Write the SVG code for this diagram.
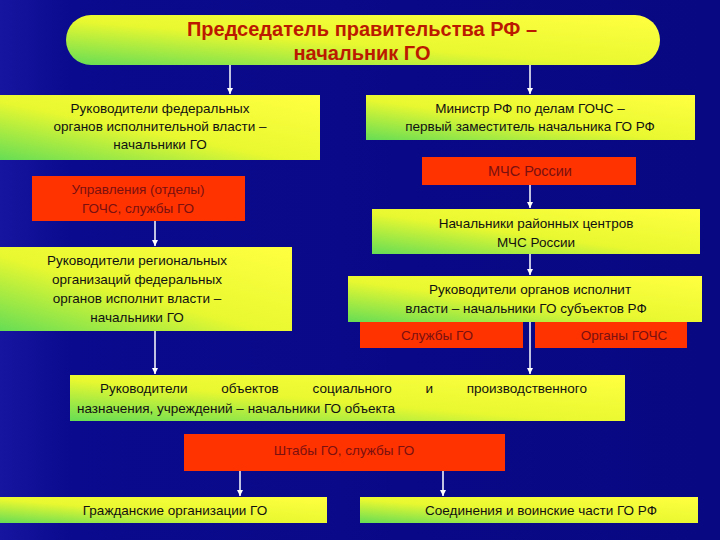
<svg xmlns="http://www.w3.org/2000/svg" width="720" height="540" viewBox="0 0 720 540">
<defs>
<linearGradient id="bg" x1="0" y1="0" x2="1" y2="0"><stop offset="0" stop-color="#1515a0"/><stop offset="0.1" stop-color="#0a0a8e"/><stop offset="1" stop-color="#080882"/></linearGradient>
<linearGradient id="gy" x1="0" y1="1" x2="1" y2="0"><stop offset="0" stop-color="#66dd55"/><stop offset="0.45" stop-color="#e8f830"/><stop offset="1" stop-color="#ffff40"/></linearGradient>
<marker id="ar" markerWidth="8" markerHeight="8" refX="6" refY="4" orient="auto" markerUnits="userSpaceOnUse"><path d="M0,1 L6,4 L0,7 Z" fill="#fff"/></marker>
</defs>
<style>
.g{fill:url(#gy)}
.r{fill:#ff3300}
text{font-family:"Liberation Sans",Arial,sans-serif;font-size:13.5px;text-anchor:middle}
.k{fill:#111}
.t{fill:#7a1010}
.c line{stroke:#fff;stroke-width:1.5;marker-end:url(#ar)}
</style>
<rect width="720" height="540" fill="url(#bg)"/>
<g class="c">
<line x1="230" y1="65" x2="230" y2="94"/>
<line x1="530" y1="65" x2="530" y2="94"/>
<line x1="530" y1="185" x2="530" y2="208"/>
<line x1="530" y1="254" x2="530" y2="275"/>
<line x1="530" y1="322" x2="530" y2="374"/>
<line x1="155" y1="221" x2="155" y2="246"/>
<line x1="155" y1="331" x2="155" y2="374"/>
<line x1="240" y1="471" x2="240" y2="496"/>
<line x1="443" y1="471" x2="443" y2="496"/>
</g>
<g id="top"><rect x="66" y="15" width="594" height="50" rx="25" class="g"/>
<text x="362" y="36" style="font-size:20px;font-weight:bold;fill:#bb1a00">Председатель правительства РФ –</text>
<text x="362" y="60" style="font-size:20px;font-weight:bold;fill:#bb1a00">начальник ГО</text></g>
<g id="fed"><rect x="0" y="95" width="320" height="65" class="g"/>
<text x="160" y="113" class="k">Руководители федеральных</text>
<text x="160" y="131" class="k">органов исполнительной власти –</text>
<text x="160" y="149" class="k">начальники ГО</text></g>
<g id="min"><rect x="366" y="95" width="329" height="45" class="g"/>
<text x="530" y="113" class="k">Министр РФ по делам ГОЧС –</text>
<text x="530" y="131" class="k">первый заместитель начальника ГО РФ</text></g>
<g id="mchs"><rect x="422" y="157" width="214" height="28" class="r"/>
<text x="530" y="176" class="t" style="font-size:14.5px">МЧС России</text></g>
<g id="upr"><rect x="32" y="176" width="213" height="45" class="r"/>
<text x="138" y="194" class="t">Управления (отделы)</text>
<text x="138" y="213" class="t">ГОЧС, службы ГО</text></g>
<g id="rai"><rect x="372" y="209" width="328" height="45" class="g"/>
<text x="536" y="228" class="k">Начальники районных центров</text>
<text x="536" y="247" class="k">МЧС России</text></g>
<g id="reg"><rect x="0" y="247" width="292" height="84" class="g"/>
<text x="137" y="265" class="k">Руководители региональных</text>
<text x="137" y="284" class="k">организаций федеральных</text>
<text x="137" y="303" class="k">органов исполнит власти –</text>
<text x="137" y="322" class="k">начальники ГО</text></g>
<g id="sub"><rect x="348" y="276" width="354" height="46" class="g"/>
<text x="530" y="294" class="k">Руководители органов исполнит</text>
<text x="526" y="313" class="k">власти – начальники ГО субъектов РФ</text></g>
<g id="sl"><rect x="360" y="322" width="163" height="26" class="r"/>
<text x="437" y="340" class="t">Службы ГО</text></g>
<g id="org"><rect x="535" y="322" width="152" height="26" class="r"/>
<text x="624" y="340" class="t">Органы ГОЧС</text></g>
<g id="obj"><rect x="70" y="375" width="555" height="46" class="g"/>
<text x="100" y="393" class="k" style="text-anchor:start;word-spacing:30px">Руководители объектов социального и производственного</text>
<text x="77" y="413" class="k" style="text-anchor:start">назначения, учреждений  – начальники ГО объекта</text></g>
<g id="sht"><rect x="184" y="434" width="321" height="37" class="r"/>
<text x="344" y="455" class="t">Штабы ГО, службы ГО</text></g>
<g id="gr"><rect x="0" y="497" width="327" height="26" class="g"/>
<text x="175" y="515" class="k">Гражданские организации ГО</text></g>
<g id="so"><rect x="360" y="497" width="338" height="26" class="g"/>
<text x="541" y="515" class="k">Соединения и воинские части ГО РФ</text></g>
</svg>
